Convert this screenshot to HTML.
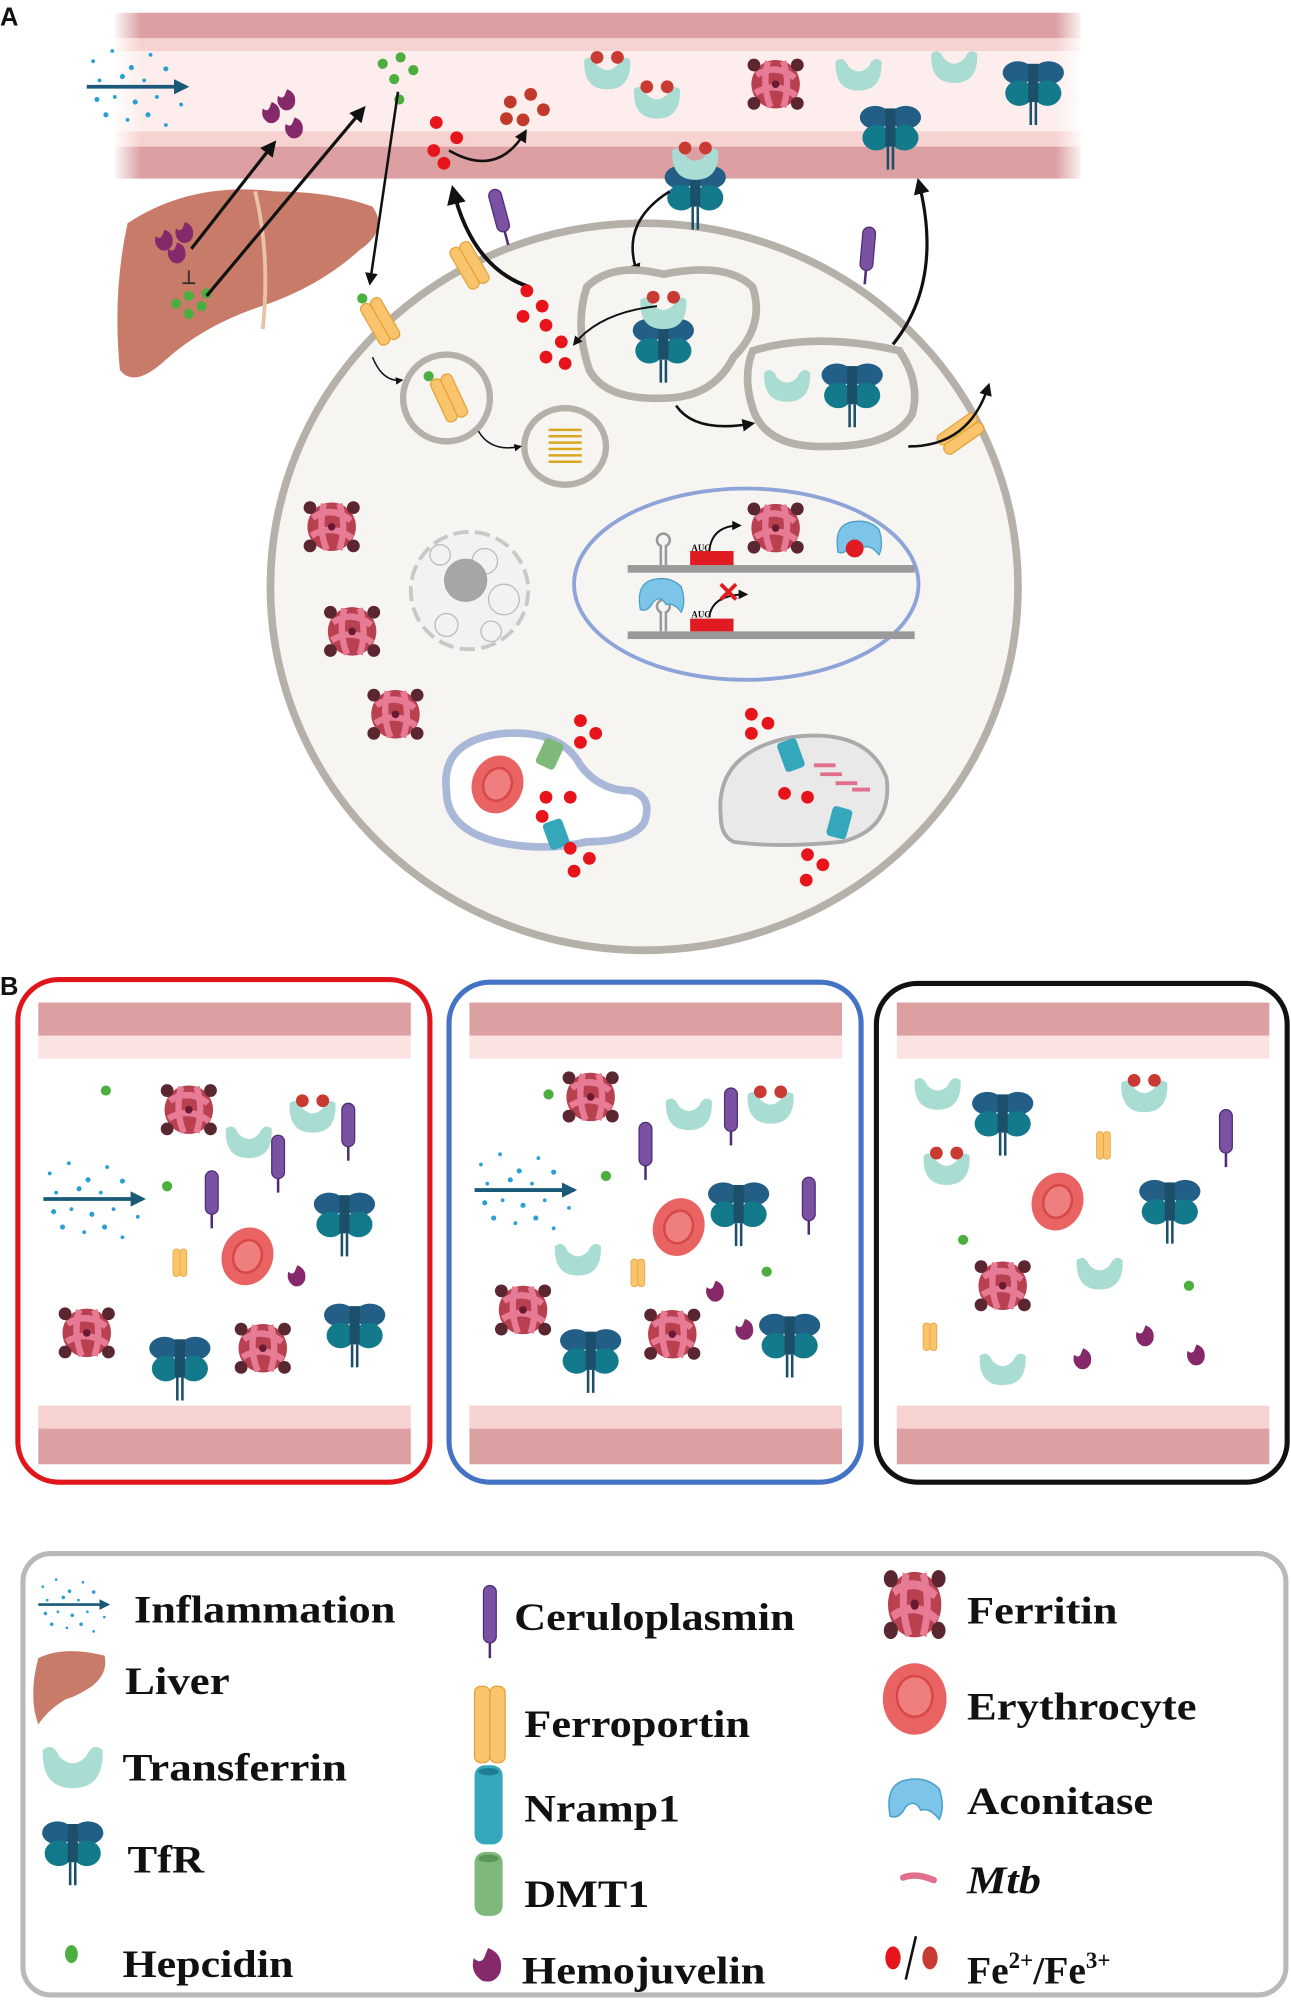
<!DOCTYPE html>
<html><head><meta charset="utf-8"><style>
html,body{margin:0;padding:0;background:#fff;}
svg{display:block;}
text{font-family:"Liberation Serif",serif;font-weight:bold;fill:#111;}
</style></head><body>
<svg width="1291" height="2000" viewBox="0 0 1012 1568" preserveAspectRatio="none" xmlns="http://www.w3.org/2000/svg">
<defs>
<marker id="ah" viewBox="0 0 10 10" refX="8" refY="5" markerWidth="5" markerHeight="5" orient="auto"><path d="M0,0L10,5L0,10z" fill="#111"/></marker>
<marker id="ahb" viewBox="0 0 10 10" refX="8" refY="5" markerWidth="4" markerHeight="4" orient="auto"><path d="M0,0L10,5L0,10z" fill="#1a5a78"/></marker>
<g id="fer"><circle r="19" fill="#b8404f"/><circle cx="-17" cy="-15" r="5" fill="#5a2630"/><circle cx="17" cy="-15" r="5" fill="#5a2630"/><circle cx="-17" cy="15" r="5" fill="#5a2630"/><circle cx="17" cy="15" r="5" fill="#5a2630"/><path d="M-15,-7 Q0,-17 15,-5 M-16,7 Q0,-3 16,9 M-6,-18 Q-11,0 -4,18 M6,-18 Q12,0 6,18" stroke="#e77a95" stroke-width="5" fill="none"/><circle r="3" fill="#6a1a30"/></g>
<g id="tfr"><ellipse cx="-12" cy="-11" rx="12" ry="9" fill="#235e86"/><ellipse cx="12" cy="-11" rx="12" ry="9" fill="#235e86"/><ellipse cx="-11" cy="5" rx="11" ry="10" fill="#137a8c"/><ellipse cx="11" cy="5" rx="11" ry="10" fill="#137a8c"/><rect x="-4" y="-18" width="8" height="30" fill="#1c4f6a"/><path d="M-2,12V30M2,12V30" stroke="#1c4f6a" stroke-width="2"/></g>
<g id="tf"><path d="M-18,-10 Q-19,13 0,13 Q19,13 18,-10 Q12,-15 8,-6 Q0,2 -8,-6 Q-12,-15 -18,-10Z" fill="#a9dcd3"/></g>
<g id="tfl"><use href="#tf"/><circle cx="-8" cy="-12" r="5" fill="#c93a32"/><circle cx="8" cy="-12" r="5" fill="#c93a32"/></g>
<g id="cp"><rect x="-5" y="-20" width="10" height="34" rx="5" fill="#7b52a3" stroke="#4e2e73"/><path d="M0,14V25" stroke="#4e2e73" stroke-width="2"/></g>
<g id="fpn"><rect x="-9" y="-18" width="9" height="36" rx="4" fill="#f9c46b" stroke="#e4a33a"/><rect x="0" y="-18" width="9" height="36" rx="4" fill="#f9c46b" stroke="#e4a33a"/></g>
<g id="hjv"><path d="M1,-8 Q9,-5 7,4 Q4,10 -2,8 Q-8,4 -6,-3 Q-3,0 -1,-3 Z" fill="#86296a"/></g>
<g id="rbc"><ellipse rx="20" ry="23" fill="#ea6363" transform="rotate(20)"/><ellipse rx="11" ry="13" fill="#ef7f7f" stroke="#d84848" stroke-width="2" transform="rotate(20)"/></g>
<g id="fe"><circle r="5" fill="#e8141c"/></g>
<g id="hep"><circle r="4" fill="#4cae3f"/></g>
<g id="acn"><path d="M-16,10 Q-20,-12 -4,-14 Q8,-16 16,-8 Q20,4 16,12 Q10,4 4,6 Q0,-2 -6,4 Q-10,12 -16,10Z" fill="#7cc4e8" stroke="#4aa0c8"/></g>
<g id="infl" fill="#2a9fd6"><circle cx="5" cy="-20" r="1.5"/><circle cx="20" cy="-28" r="1.5"/><circle cx="35" cy="-15" r="2"/><circle cx="50" cy="-25" r="1.5"/><circle cx="10" cy="-5" r="1.5"/><circle cx="28" cy="-8" r="2"/><circle cx="45" cy="-5" r="1.5"/><circle cx="62" cy="-14" r="2"/><circle cx="8" cy="10" r="2"/><circle cx="22" cy="8" r="1.5"/><circle cx="38" cy="12" r="2"/><circle cx="55" cy="8" r="1.5"/><circle cx="15" cy="22" r="2"/><circle cx="32" cy="26" r="1.5"/><circle cx="48" cy="22" r="2"/><circle cx="62" cy="30" r="1.5"/><circle cx="72" cy="-2" r="1.5"/><circle cx="74" cy="14" r="1.5"/><path d="M0,0H78" stroke="#1a5a78" stroke-width="3" marker-end="url(#ahb)"/></g>
<linearGradient id="vh" x1="0" x2="1"><stop offset="0" stop-color="#fff" stop-opacity="1"/><stop offset="0.03" stop-color="#fff" stop-opacity="0"/><stop offset="0.97" stop-color="#fff" stop-opacity="0"/><stop offset="1" stop-color="#fff" stop-opacity="1"/></linearGradient>
</defs>

<text x="0" y="20" font-size="20" style="font-family:'Liberation Sans',sans-serif">A</text>
<!-- vessel A -->
<rect x="90" y="10" width="757" height="130" fill="#fdeeed"/>
<rect x="90" y="10" width="757" height="20" fill="#dc9fa2"/>
<rect x="90" y="30" width="757" height="10" fill="#f6d2d0"/>
<rect x="90" y="103" width="757" height="12" fill="#f6d2d0"/>
<rect x="90" y="115" width="757" height="25" fill="#dc9fa2"/>
<rect x="88" y="8" width="762" height="134" fill="url(#vh)"/>

<use href="#infl" x="68" y="68"/>
<use href="#hjv" x="212" y="88"/><use href="#hjv" x="230" y="100"/><use href="#hjv" x="224" y="78"/>
<use href="#hep" x="300" y="50"/><use href="#hep" x="314" y="45"/><use href="#hep" x="324" y="55"/><use href="#hep" x="309" y="62"/><use href="#hep" x="313" y="78"/>
<use href="#fe" x="342" y="96"/><use href="#fe" x="358" y="108"/><use href="#fe" x="340" y="118"/><use href="#fe" x="348" y="128"/>
<g fill="#c0392b"><circle cx="400" cy="80" r="5"/><circle cx="416" cy="74" r="5"/><circle cx="426" cy="86" r="5"/><circle cx="410" cy="94" r="5"/><circle cx="397" cy="93" r="5"/></g>
<path d="M352,118 Q390,140 412,103" stroke="#111" stroke-width="2" fill="none" marker-end="url(#ah)"/>
<use href="#tfl" x="476" y="57"/><use href="#tfl" x="515" y="80"/>
<use href="#fer" x="608" y="66"/>
<use href="#tf" x="673" y="58"/><use href="#tf" x="748" y="52"/>
<use href="#tfr" x="810" y="68"/><use href="#tfr" x="698" y="103"/>

<!-- cell -->
<ellipse cx="505" cy="460" rx="293" ry="285" fill="#f6f5f2" stroke="#b5b1a8" stroke-width="6"/>

<!-- liver -->
<path d="M100,175 Q150,142 215,150 Q260,150 292,162 Q305,180 282,196 Q250,225 205,240 Q160,255 130,282 Q105,305 94,290 Q88,230 100,175Z" fill="#c97b6a"/>
<path d="M200,150 Q212,200 206,258" stroke="#e8c3a6" stroke-width="3" fill="none"/>
<use href="#hjv" x="128" y="188"/><use href="#hjv" x="144" y="182"/><use href="#hjv" x="138" y="198"/>
<path d="M148,212V222M143,222H153" stroke="#333" stroke-width="1.5"/>
<use href="#hep" x="138" y="238"/><use href="#hep" x="148" y="232"/><use href="#hep" x="158" y="240"/><use href="#hep" x="148" y="246"/><use href="#hep" x="162" y="230"/>

<path d="M150,195 L215,112" stroke="#111" stroke-width="2.5" marker-end="url(#ah)"/>
<path d="M162,232 L285,85" stroke="#111" stroke-width="2.5" marker-end="url(#ah)"/>
<path d="M312,72 L290,222" stroke="#111" stroke-width="2" marker-end="url(#ah)"/>

<use href="#tfr" x="545" y="150"/><use href="#tfl" x="545" y="128" transform=""/>
<use href="#cp" x="392" y="168" transform="rotate(-15 392 168)"/>
<use href="#cp" x="680" y="198" transform="rotate(5 680 198)"/>
<use href="#fpn" x="298" y="252" transform="rotate(-30 298 252)"/><use href="#hep" x="284" y="234"/>
<use href="#fpn" x="368" y="208" transform="rotate(-30 368 208)"/>
<use href="#fpn" x="753" y="340" transform="rotate(55 753 340)"/>
<path d="M415,225 Q370,210 355,148" stroke="#111" stroke-width="3" fill="none" marker-end="url(#ah)"/>
<path d="M700,270 Q740,220 720,142" stroke="#111" stroke-width="2.5" fill="none" marker-end="url(#ah)"/>
<path d="M525,150 Q485,175 500,215" stroke="#111" stroke-width="2" fill="none" marker-end="url(#ah)"/>
<path d="M712,350 Q760,350 775,302" stroke="#111" stroke-width="2" fill="none" marker-end="url(#ah)"/>

<use href="#fe" x="413" y="228"/><use href="#fe" x="425" y="240"/><use href="#fe" x="410" y="248"/><use href="#fe" x="428" y="255"/><use href="#fe" x="440" y="268"/><use href="#fe" x="428" y="280"/><use href="#fe" x="443" y="285"/>

<!-- endosomes -->
<path d="M460,225 Q480,205 520,215 Q570,205 590,225 Q600,255 575,280 Q560,310 525,312 Q475,315 462,290 Q450,255 460,225Z" fill="#f6f5f2" stroke="#b5b1a8" stroke-width="6"/>
<use href="#tfr" x="520" y="270"/><use href="#tfl" x="520" y="245"/>
<path d="M515,240 Q470,245 450,270" stroke="#111" stroke-width="1.5" fill="none" marker-end="url(#ah)"/>
<path d="M590,275 Q640,260 705,275 Q722,300 715,325 Q700,350 650,350 Q600,352 590,320 Q582,295 590,275Z" fill="#f6f5f2" stroke="#b5b1a8" stroke-width="6"/>
<use href="#tf" x="617" y="302"/><use href="#tfr" x="668" y="305"/>
<path d="M530,318 Q545,340 590,332" stroke="#111" stroke-width="2" fill="none" marker-end="url(#ah)"/>
<ellipse cx="350" cy="312" rx="34" ry="34" fill="#f6f5f2" stroke="#b5b1a8" stroke-width="5"/>
<use href="#fpn" x="352" y="312" transform="rotate(-25 352 312)"/><use href="#hep" x="336" y="295"/>
<ellipse cx="443" cy="350" rx="32" ry="30" fill="#f6f5f2" stroke="#b5b1a8" stroke-width="5"/>
<g stroke="#d9a820" stroke-width="2"><path d="M430,337H456M430,342H456M430,347H456M430,352H456M430,357H456M430,362H456"/></g>
<path d="M292,280 Q300,300 315,298" stroke="#111" stroke-width="1.2" fill="none" marker-end="url(#ah)"/>
<path d="M375,338 Q385,355 408,350" stroke="#111" stroke-width="1.2" fill="none" marker-end="url(#ah)"/>

<!-- ferritin in cell -->
<use href="#fer" x="260" y="413"/><use href="#fer" x="276" y="495"/><use href="#fer" x="310" y="560"/>
<!-- nucleus -->
<circle cx="368" cy="463" r="46" fill="#f2f2f2" stroke="#c8c8c8" stroke-width="3" stroke-dasharray="12 5"/>
<g stroke="#bbb" fill="none" stroke-width="1"><circle cx="380" cy="440" r="10"/><circle cx="395" cy="470" r="12"/><circle cx="350" cy="490" r="9"/><circle cx="385" cy="495" r="8"/><circle cx="345" cy="435" r="8"/></g>
<circle cx="365" cy="455" r="17" fill="#a6a6a6"/>
<!-- blue ellipse -->
<ellipse cx="585" cy="458" rx="135" ry="75" fill="#f6f5f2" stroke="#8ea4d8" stroke-width="3"/>
<rect x="492" y="443" width="225" height="6" fill="#9a9a9a"/>
<rect x="492" y="495" width="225" height="6" fill="#9a9a9a"/>
<rect x="541" y="432" width="34" height="11" fill="#e01b22"/><rect x="541" y="485" width="34" height="10" fill="#e01b22"/>
<text x="542" y="432" font-size="7" font-weight="normal">AUG</text><text x="542" y="484" font-size="7" font-weight="normal">AUG</text>
<path d="M518,443V428 A5,5 0 1 1 522,428 V443" stroke="#999" stroke-width="2" fill="none"/>
<path d="M518,495V480 A5,5 0 1 1 522,480 V495" stroke="#999" stroke-width="2" fill="none"/>
<path d="M556,432 Q558,412 580,412" stroke="#111" stroke-width="1.5" fill="none" marker-end="url(#ah)"/>
<use href="#fer" x="608" y="414" transform="scale(1)"/>
<use href="#acn" x="673" y="423"/><circle cx="670" cy="430" r="7" fill="#e01b22"/>
<use href="#acn" x="518" y="468"/>
<path d="M556,484 Q558,466 585,466" stroke="#111" stroke-width="1.5" fill="none" marker-end="url(#ah)"/>
<path d="M565,458L577,470M577,458L565,470" stroke="#e01b22" stroke-width="3"/>
<!-- phagosome -->
<path d="M350,620 Q345,580 395,575 Q440,572 455,600 Q470,620 495,620 Q512,625 505,645 Q495,660 460,660 Q425,668 390,660 Q350,650 350,620Z" fill="#fff" stroke="#a9b8d8" stroke-width="6"/>
<use href="#rbc" x="390" y="615"/>
<rect x="423" y="580" width="16" height="22" rx="3" fill="#7eb87a" transform="rotate(25 431 591)"/>
<rect x="428" y="643" width="16" height="22" rx="3" fill="#35a7bb" transform="rotate(-20 436 654)"/>
<use href="#fe" x="455" y="565"/><use href="#fe" x="467" y="575"/><use href="#fe" x="455" y="582"/>
<use href="#fe" x="428" y="625"/><use href="#fe" x="447" y="625"/><use href="#fe" x="425" y="640"/>
<use href="#fe" x="447" y="665"/><use href="#fe" x="462" y="673"/><use href="#fe" x="450" y="683"/>
<!-- mito / bacteria compartment -->
<path d="M565,640 Q560,590 620,578 Q680,570 695,610 Q700,650 660,660 Q610,665 575,660 Q565,655 565,640Z" fill="#e9e9e9" stroke="#aaa" stroke-width="3"/>
<g stroke="#e2708c" stroke-width="3"><path d="M638,600H655M643,607H660M655,614H672M668,619H682"/></g>
<rect x="612" y="580" width="16" height="24" rx="3" fill="#35a7bb" transform="rotate(-20 620 592)"/>
<rect x="650" y="633" width="16" height="24" rx="3" fill="#35a7bb" transform="rotate(15 658 645)"/>
<use href="#fe" x="589" y="560"/><use href="#fe" x="602" y="567"/><use href="#fe" x="589" y="575"/>
<use href="#fe" x="615" y="622"/><use href="#fe" x="633" y="625"/>
<use href="#fe" x="633" y="670"/><use href="#fe" x="645" y="678"/><use href="#fe" x="632" y="690"/>

<!-- PANEL B -->
<text x="0" y="780" font-size="20" style="font-family:'Liberation Sans',sans-serif">B</text>
<g>
<rect x="14" y="768" width="323" height="394" rx="32" fill="#fff" stroke="#e0161c" stroke-width="4"/>
<rect x="352" y="770" width="323" height="392" rx="32" fill="#fff" stroke="#4472c4" stroke-width="4"/>
<rect x="687" y="771" width="322" height="391" rx="32" fill="#fff" stroke="#111" stroke-width="4"/>
</g>
<g id="vb">
<rect x="30" y="786" width="292" height="26" fill="#dc9fa2"/><rect x="30" y="812" width="292" height="18" fill="#fbe3e1"/>
<rect x="30" y="1102" width="292" height="18" fill="#f6d2d0"/><rect x="30" y="1120" width="292" height="28" fill="#dc9fa2"/>
</g>
<use href="#vb" x="338"/><use href="#vb" x="673"/>

<!-- box1 -->
<use href="#hep" x="83" y="855"/><use href="#hep" x="131" y="930"/>
<use href="#fer" x="148" y="870"/><use href="#fer" x="68" y="1045"/><use href="#fer" x="206" y="1057"/>
<use href="#tfl" x="245" y="875"/><use href="#tf" x="195" y="895"/>
<use href="#cp" x="273" y="885"/><use href="#cp" x="218" y="910"/><use href="#cp" x="166" y="938"/>
<use href="#infl" x="34" y="940"/>
<use href="#fpn" x="141" y="990" transform="translate(141 990) scale(0.6) translate(-141 -990)"/>
<use href="#rbc" x="194" y="985"/><use href="#hjv" x="232" y="1000"/>
<use href="#tfr" x="270" y="955"/><use href="#tfr" x="141" y="1068"/><use href="#tfr" x="278" y="1042"/>
<!-- box2 -->
<use href="#hep" x="430" y="858"/><use href="#hep" x="475" y="922"/><use href="#hep" x="601" y="997"/>
<use href="#fer" x="463" y="860"/><use href="#fer" x="410" y="1027"/><use href="#fer" x="527" y="1046"/>
<use href="#tfl" x="604" y="868"/><use href="#tf" x="540" y="873"/><use href="#tf" x="453" y="987"/>
<use href="#cp" x="573" y="873"/><use href="#cp" x="506" y="900"/><use href="#cp" x="634" y="943"/>
<use href="#infl" x="372" y="933"/>
<use href="#rbc" x="532" y="962"/>
<use href="#tfr" x="579" y="947"/><use href="#tfr" x="463" y="1062"/><use href="#tfr" x="619" y="1050"/>
<use href="#fpn" x="500" y="998" transform="translate(500 998) scale(0.6) translate(-500 -998)"/>
<use href="#hjv" x="560" y="1012"/><use href="#hjv" x="583" y="1042"/>
<!-- box3 -->
<use href="#tf" x="735" y="857"/><use href="#tf" x="862" y="998"/><use href="#tf" x="786" y="1073"/>
<use href="#tfl" x="897" y="859"/><use href="#tfl" x="742" y="916"/>
<use href="#tfr" x="786" y="876"/><use href="#tfr" x="917" y="945"/>
<use href="#fpn" x="865" y="898" transform="translate(865 898) scale(0.6) translate(-865 -898)"/>
<use href="#fpn" x="729" y="1048" transform="translate(729 1048) scale(0.6) translate(-729 -1048)"/>
<use href="#cp" x="961" y="890"/>
<use href="#rbc" x="829" y="942"/><use href="#fer" x="786" y="1008"/>
<use href="#hep" x="755" y="972"/><use href="#hep" x="932" y="1008"/>
<use href="#hjv" x="848" y="1065"/><use href="#hjv" x="897" y="1047"/><use href="#hjv" x="937" y="1062"/>

<!-- LEGEND -->
<rect x="18" y="1218" width="990" height="346" rx="22" fill="#fff" stroke="#b9b9b9" stroke-width="4"/>
<use href="#infl" x="30" y="1258" transform="translate(30 1258) scale(0.7) translate(-30 -1258)"/>
<path d="M30,1300 Q50,1290 82,1298 Q85,1312 72,1322 Q60,1330 52,1332 Q38,1340 30,1352 Q22,1330 30,1300Z" fill="#c97b6a"/>
<use href="#tf" x="57" y="1385" transform="translate(57 1385) scale(1.3) translate(-57 -1385)"/>
<use href="#tfr" x="57" y="1448"/>
<ellipse cx="56" cy="1532" rx="5" ry="7" fill="#4cae3f"/>
<rect x="379" y="1243" width="10" height="45" rx="5" fill="#7b52a3" stroke="#4e2e73"/><path d="M384,1288V1300" stroke="#4e2e73" stroke-width="2"/>
<rect x="372" y="1322" width="12" height="60" rx="5" fill="#f9c46b" stroke="#e4a33a"/><rect x="384" y="1322" width="12" height="60" rx="5" fill="#f9c46b" stroke="#e4a33a"/>
<rect x="372" y="1384" width="22" height="62" rx="8" fill="#35a7bb"/><ellipse cx="383" cy="1389" rx="8" ry="3" fill="#1f7f92"/>
<rect x="372" y="1452" width="22" height="50" rx="8" fill="#7eb87a"/><ellipse cx="383" cy="1457" rx="8" ry="3" fill="#5a9656"/>
<use href="#hjv" x="381" y="1540" transform="translate(381 1540) scale(1.6) translate(-381 -1540)"/>
<use href="#fer" x="717" y="1258" transform="translate(717 1258) scale(1.1 1.35) translate(-717 -1258)"/>
<ellipse cx="717" cy="1332" rx="25" ry="28" fill="#ea6363"/><ellipse cx="717" cy="1330" rx="14" ry="16" fill="#ef7f7f" stroke="#d84848" stroke-width="2"/>
<use href="#acn" x="717" y="1412" transform="translate(717 1412) scale(1.2) translate(-717 -1412)"/>
<path d="M708,1472 Q718,1468 732,1474" stroke="#e2708c" stroke-width="5" stroke-linecap="round" fill="none"/>
<ellipse cx="700" cy="1535" rx="6" ry="9" fill="#e8141c"/><ellipse cx="729" cy="1535" rx="6" ry="9" fill="#c93a32"/>
<path d="M718,1518L710,1552" stroke="#111" stroke-width="2"/>

<g font-size="31">
<text x="105" y="1272" textLength="205" lengthAdjust="spacingAndGlyphs">Inflammation</text>
<text x="98" y="1328" textLength="82" lengthAdjust="spacingAndGlyphs">Liver</text>
<text x="96" y="1396" textLength="176" lengthAdjust="spacingAndGlyphs">Transferrin</text>
<text x="100" y="1468" textLength="60" lengthAdjust="spacingAndGlyphs">TfR</text>
<text x="96" y="1550" textLength="134" lengthAdjust="spacingAndGlyphs">Hepcidin</text>
<text x="403" y="1278" textLength="220" lengthAdjust="spacingAndGlyphs">Ceruloplasmin</text>
<text x="411" y="1362" textLength="177" lengthAdjust="spacingAndGlyphs">Ferroportin</text>
<text x="411" y="1428" textLength="122" lengthAdjust="spacingAndGlyphs">Nramp1</text>
<text x="411" y="1495" textLength="98" lengthAdjust="spacingAndGlyphs">DMT1</text>
<text x="409" y="1555" textLength="191" lengthAdjust="spacingAndGlyphs">Hemojuvelin</text>
<text x="758" y="1273" textLength="118" lengthAdjust="spacingAndGlyphs">Ferritin</text>
<text x="758" y="1348" textLength="180" lengthAdjust="spacingAndGlyphs">Erythrocyte</text>
<text x="758" y="1422" textLength="146" lengthAdjust="spacingAndGlyphs">Aconitase</text>
<text x="758" y="1484" font-style="italic" textLength="58" lengthAdjust="spacingAndGlyphs">Mtb</text>
<text x="758" y="1555">Fe<tspan font-size="18" dy="-12">2+</tspan><tspan dy="12">/Fe</tspan><tspan font-size="18" dy="-12">3+</tspan></text>
</g>
</svg>
</body></html>
